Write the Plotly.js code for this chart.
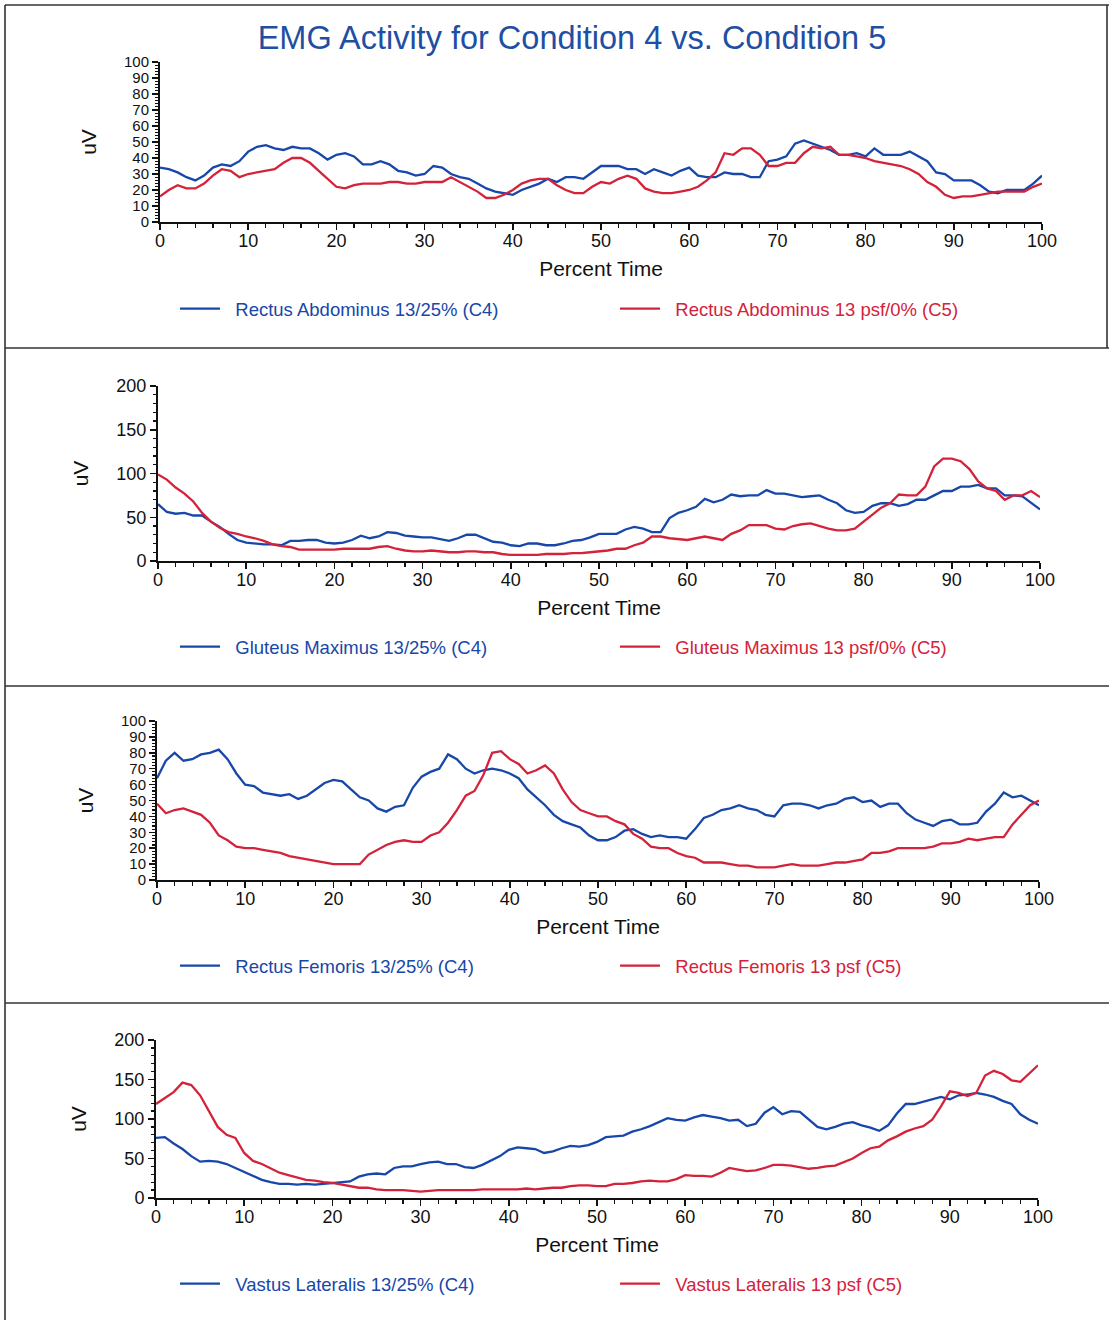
<!DOCTYPE html>
<html>
<head>
<meta charset="utf-8">
<script src="https://cdn.plot.ly/plotly-3.0.1.min.js"></script>
<style>html,body{margin:0;padding:0;background:#fff;}#chart{width:1109px;height:1320px;}</style>
</head>
<body>
<div id="chart"></div>
<script>
// ---------------- DATA ----------------
const pct = [0,1,2,3,4,5,6,7,8,9,10,11,12,13,14,15,16,17,18,19,20,21,22,23,24,25,26,27,28,29,30,31,32,33,34,35,36,37,38,39,40,41,42,43,44,45,46,47,48,49,50,51,52,53,54,55,56,57,58,59,60,61,62,63,64,65,66,67,68,69,70,71,72,73,74,75,76,77,78,79,80,81,82,83,84,85,86,87,88,89,90,91,92,93,94,95,96,97,98,99,100];

const chartTitle = "EMG Activity for Condition 4 vs. Condition 5";
const xTitle = "Percent Time";
const yTitle = "uV";

const rectAbdC4Name = "Rectus Abdominus 13/25% (C4)";
const rectAbdC5Name = "Rectus Abdominus 13 psf/0% (C5)";
const rectAbdC4 = [34,33,31,28,26,29,34,36,35,38,44,47,48,46,45,47,46,46,43,39,42,43,41,36,36,38,36,32,31,29,30,35,34,30,28,27,24,21,19,18,17,20,22,24,27,25,28,28,27,31,35,35,35,33,33,30,33,31,29,32,34,29,28,28,31,30,30,28,28,38,39,41,49,51,49,47,45,42,42,43,41,46,42,42,42,44,41,38,31,30,26,26,26,23,19,18,20,20,20,24,29];
const rectAbdC5 = [16,20,23,21,21,24,29,33,32,28,30,31,32,33,37,40,40,37,32,27,22,21,23,24,24,24,25,25,24,24,25,25,25,28,25,22,19,15,15,17,20,24,26,27,27,23,20,18,18,22,25,24,27,29,27,21,19,18,18,19,20,22,26,31,43,42,46,46,42,35,35,37,37,43,47,46,47,42,42,41,40,38,37,36,35,33,30,25,22,17,15,16,16,17,18,19,19,19,19,22,24];

const glutC4Name = "Gluteus Maximus 13/25% (C4)";
const glutC5Name = "Gluteus Maximus 13 psf/0% (C5)";
const glutC4 = [65,56,54,55,52,52,45,39,31,24,21,20,19,19,18,23,23,24,24,21,20,21,24,29,26,28,33,32,29,28,27,27,25,23,26,30,30,26,22,21,18,17,20,20,18,18,20,23,24,27,31,31,31,36,39,37,33,33,49,55,58,62,71,67,70,76,74,75,75,81,77,77,75,73,74,75,70,66,58,55,56,63,66,66,63,65,70,70,75,80,80,85,85,87,83,83,75,75,74,66,59];
const glutC5 = [99,93,84,77,68,55,45,38,33,31,28,26,23,19,17,16,13,13,13,13,13,14,14,14,14,16,17,14,12,11,11,12,11,10,10,11,11,10,10,8,7,7,7,7,8,8,8,9,9,10,11,12,14,14,18,21,28,28,26,25,24,26,28,26,24,31,35,41,41,41,37,36,40,42,43,40,37,35,35,37,45,54,61,66,76,75,75,85,108,117,117,114,105,91,83,80,70,75,75,80,73];

const femC4Name = "Rectus Femoris 13/25% (C4)";
const femC5Name = "Rectus Femoris 13 psf (C5)";
const femC4 = [64,75,80,75,76,79,80,82,76,67,60,59,55,54,53,54,51,53,57,61,63,62,57,52,50,45,43,46,47,58,65,68,70,79,76,70,67,69,70,69,67,64,57,52,47,41,37,35,33,28,25,25,27,31,32,29,27,28,27,27,26,32,39,41,44,45,47,45,44,41,40,47,48,48,47,45,47,48,51,52,49,50,46,48,48,42,38,36,34,37,38,35,35,36,43,48,55,52,53,50,47];
const femC5 = [48,42,44,45,43,41,36,28,25,21,20,20,19,18,17,15,14,13,12,11,10,10,10,10,16,19,22,24,25,24,24,28,30,36,44,53,56,66,80,81,76,73,67,69,72,67,57,49,44,42,40,40,37,35,29,26,21,20,20,17,15,14,11,11,11,10,9,9,8,8,8,9,10,9,9,9,10,11,11,12,13,17,17,18,20,20,20,20,21,23,23,24,26,25,26,27,27,35,41,47,50];

const vastC4Name = "Vastus Lateralis 13/25% (C4)";
const vastC5Name = "Vastus Lateralis 13 psf (C5)";
const vastC4 = [76,77,69,62,53,46,47,46,43,38,32,27,23,20,18,18,17,18,17,18,19,20,21,27,30,31,30,38,40,40,43,45,46,43,43,39,38,42,48,53,61,64,63,62,57,59,63,66,65,67,71,77,78,79,84,87,91,96,101,99,98,102,105,103,101,98,99,91,94,108,115,106,110,109,99,90,87,90,94,96,92,89,85,92,107,119,119,122,125,128,125,130,131,133,131,128,123,119,106,99,94];
const vastC5 = [119,126,134,146,143,130,109,90,80,76,57,47,43,37,32,29,26,23,22,20,19,17,15,13,13,11,10,10,10,9,8,9,10,10,10,10,10,11,11,11,11,11,12,11,12,13,13,15,16,16,15,15,18,18,19,21,22,21,21,24,29,28,28,27,32,38,36,34,35,38,42,42,41,39,37,38,40,41,45,50,57,63,65,73,78,84,88,91,99,116,135,133,129,133,155,161,157,149,147,157,168];

// ---------------- STYLE ----------------
const BLUE = "#1747a8";
const RED = "#d3223a";
const FONT = "Liberation Sans, Arial, sans-serif";
const W = 1109, H = 1320;

const panels = [
  {x0:160, x1:1042, yt:62,  yb:222,  ymax:100, dtick:10, minor:2,  yfs:15, legY:309,  c4:rectAbdC4, c5:rectAbdC5, n4:rectAbdC4Name, n5:rectAbdC5Name},
  {x0:158, x1:1040, yt:386, yb:561,  ymax:200, dtick:50, minor:10, yfs:18, legY:647,  c4:glutC4, c5:glutC5, n4:glutC4Name, n5:glutC5Name},
  {x0:157, x1:1039, yt:721, yb:880,  ymax:100, dtick:10, minor:2,  yfs:15, legY:966,  c4:femC4, c5:femC5, n4:femC4Name, n5:femC5Name},
  {x0:156, x1:1038, yt:1040, yb:1198, ymax:200, dtick:50, minor:10, yfs:18, legY:1284, c4:vastC4, c5:vastC5, n4:vastC4Name, n5:vastC5Name}
];

const px = v => v / W;
const py = v => 1 - v / H;
const pad = "&nbsp;&nbsp;";

const traces = [];
const layout = {
  width: W, height: H,
  margin: {l:0, r:0, t:0, b:0},
  paper_bgcolor: "#ffffff",
  plot_bgcolor: "#ffffff",
  font: {family: FONT, color: "#111111", size: 18},
  showlegend: true,
  title: {
    text: chartTitle,
    font: {family: FONT, size: 32.5, color: "#1f4fa3"},
    x: px(572), xref: "paper", xanchor: "center",
    y: py(38), yref: "container", yanchor: "middle"
  },
  shapes: []
};

panels.forEach((p, i) => {
  const k = i + 1;
  const xa = "x" + (k === 1 ? "" : k);
  const ya = "y" + (k === 1 ? "" : k);
  const lg = k === 1 ? "legend" : "legend" + k;
  traces.push({
    x: pct, y: p.c4, name: pad + '<span style="color:' + BLUE + '">' + p.n4 + '</span>',
    type: "scatter", mode: "lines", line: {color: BLUE, width: 2.3},
    xaxis: xa, yaxis: ya, legend: lg, hoverinfo: "skip"
  });
  traces.push({
    x: pct, y: p.c5, name: pad + '<span style="color:' + RED + '">' + p.n5 + '</span>',
    type: "scatter", mode: "lines", line: {color: RED, width: 2.3},
    xaxis: xa, yaxis: ya, legend: lg, hoverinfo: "skip"
  });
  const axX = "xaxis" + (k === 1 ? "" : k);
  const axY = "yaxis" + (k === 1 ? "" : k);
  layout[axX] = {
    domain: [px(p.x0), px(p.x1)], anchor: ya, range: [0, 100],
    tickmode: "linear", tick0: 0, dtick: 10,
    ticks: "outside", ticklen: 6, tickwidth: 1.5, tickcolor: "#111",
    ticklabelstandoff: -5,
    minor: {tickmode: "linear", tick0: 0, dtick: 2, ticks: "outside", ticklen: 4, tickwidth: 1.3, tickcolor: "#111", showgrid: false},
    showline: true, linecolor: "#111", linewidth: 2,
    showgrid: false, zeroline: false,
    tickfont: {family: FONT, size: 18, color: "#111"},
    title: {text: xTitle, font: {family: FONT, size: 21, color: "#111"}, standoff: 12},
    automargin: false, fixedrange: true
  };
  layout[axY] = {
    domain: [py(p.yb), py(p.yt)], anchor: xa, range: [0, p.ymax],
    tickmode: "linear", tick0: 0, dtick: p.dtick,
    ticks: "outside", ticklen: 6, tickwidth: 1.5, tickcolor: "#111",
    minor: {tickmode: "linear", tick0: 0, dtick: p.minor, ticks: "outside", ticklen: 3, tickwidth: 1.2, tickcolor: "#111", showgrid: false},
    showline: true, linecolor: "#111", linewidth: 2,
    showgrid: false, zeroline: false,
    tickfont: {family: FONT, size: p.yfs, color: "#111"},
    title: {text: yTitle, font: {family: FONT, size: 21, color: "#111"}, standoff: 22},
    automargin: false, fixedrange: true
  };
  layout[lg] = {
    orientation: "h",
    x: px(175), xanchor: "left", xref: "paper",
    y: py(p.legY), yanchor: "middle", yref: "paper",
    entrywidth: 385, entrywidthmode: "pixels",
    itemwidth: 40,
    bgcolor: "rgba(0,0,0,0)", borderwidth: 0,
    font: {family: FONT, size: 18.5, color: "#111"},
    traceorder: "normal"
  };
});

// panel frames
const lines = [5, 348, 686, 1003];
lines.forEach(yv => layout.shapes.push({type: "line", xref: "paper", yref: "paper", x0: px(5), x1: 1, y0: py(yv), y1: py(yv), line: {color: "#333", width: 1.6}}));
layout.shapes.push({type: "line", xref: "paper", yref: "paper", x0: px(5), x1: px(5), y0: py(5), y1: 0, line: {color: "#333", width: 1.6}});
layout.shapes.push({type: "line", xref: "paper", yref: "paper", x0: px(1107), x1: px(1107), y0: py(5), y1: py(348), line: {color: "#333", width: 1.6}});

Plotly.newPlot("chart", traces, layout, {staticPlot: true, displayModeBar: false});
</script>
</body>
</html>
